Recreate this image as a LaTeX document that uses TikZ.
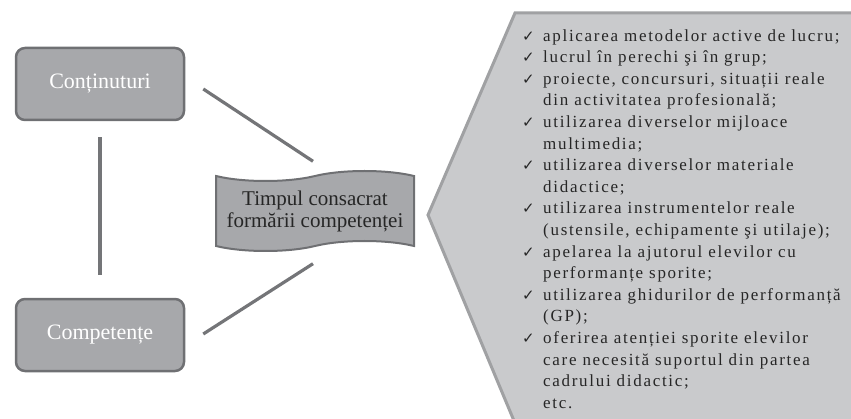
\documentclass[tikz,border=0pt]{standalone}
\usepackage{fontspec}
\setmainfont{Liberation Serif}
\newfontfamily\listfont[LetterSpace=10]{Liberation Serif}
\newfontfamily\tickfont{DejaVu Sans}
\usetikzlibrary{shapes.symbols,calc}

\definecolor{boxfill}{HTML}{A7A8AB}
\definecolor{boxline}{HTML}{6F7073}
\definecolor{listfill}{HTML}{C9CACC}
\definecolor{listline}{HTML}{A0A1A3}
\definecolor{linkgray}{HTML}{747578}
\definecolor{txtdark}{HTML}{262626}

\newcommand{\chk}{\makebox[21pt][l]{\tickfont\fontsize{15}{15}\selectfont ✓}}
\newcommand{\ind}{\hspace*{21pt}}

\tikzset{
    termbox/.style={rectangle, rounded corners=9pt, draw=boxline, line width=2.5pt, fill=boxfill,
        minimum width=168pt, minimum height=72pt, text=white, font=\fontsize{22}{24}\selectfont},
    timebanner/.style={tape, draw=boxline, line width=2pt, fill=boxfill, minimum width=198pt,
        minimum height=80pt, tape bend height=10pt, text=txtdark, align=center,
        font=\fontsize{21}{22}\selectfont},
    link/.style={draw=linkgray, line width=3.2pt},
}

\begin{document}
\begin{tikzpicture}[x=1pt, y=1pt]
        \useasboundingbox (0,0) rectangle (851,418);

        % List panel
        \begin{scope}
            \clip (0,0) rectangle (851,418);
            \draw[listline, line width=3pt, fill=listfill] (515,405) -- (860,405) -- (860,-10) -- (517,-10) -- (428,203) -- cycle;
        \end{scope}

        % Nodes
        \node[termbox] at (100, 334) (cont) {Conținuturi};
        \node[termbox] at (100, 83)  (comp) {Competențe};
        \node[timebanner] at (315, 207) (time) {Timpul consacrat\\formării competenței};

        \node[anchor=west, align=left, inner sep=0pt, text=txtdark, font=\listfont\fontsize{17}{21.6}\selectfont] at (522, 199) (list) {%
            \chk aplicarea metodelor active de lucru;\\
            \chk lucrul în perechi şi în grup;\\
            \chk proiecte, concursuri, situații reale\\
            \ind din activitatea profesională;\\
            \chk utilizarea diverselor mijloace\\
            \ind multimedia;\\
            \chk utilizarea diverselor materiale\\
            \ind didactice;\\
            \chk utilizarea instrumentelor reale\\
            \ind (ustensile, echipamente şi utilaje);\\
            \chk apelarea la ajutorul elevilor cu\\
            \ind performanțe sporite;\\
            \chk utilizarea ghidurilor de performanță\\
            \ind (GP);\\
            \chk oferirea atenției sporite elevilor\\
            \ind care necesită suportul din partea\\
            \ind cadrului didactic;\\
            \ind etc.};

        % Links
        \draw[link, xshift=4pt, shorten <=16pt, shorten >=23pt] (cont) -- (comp);
        \draw[link] ($(cont.east)+(18,-5)$) -- ($(time.north)+(-2,14)$);
        \draw[link] ($(comp.east)+(18,1)$) -- ($(time.south)+(-2,-17)$);

\end{tikzpicture}
\end{document}
